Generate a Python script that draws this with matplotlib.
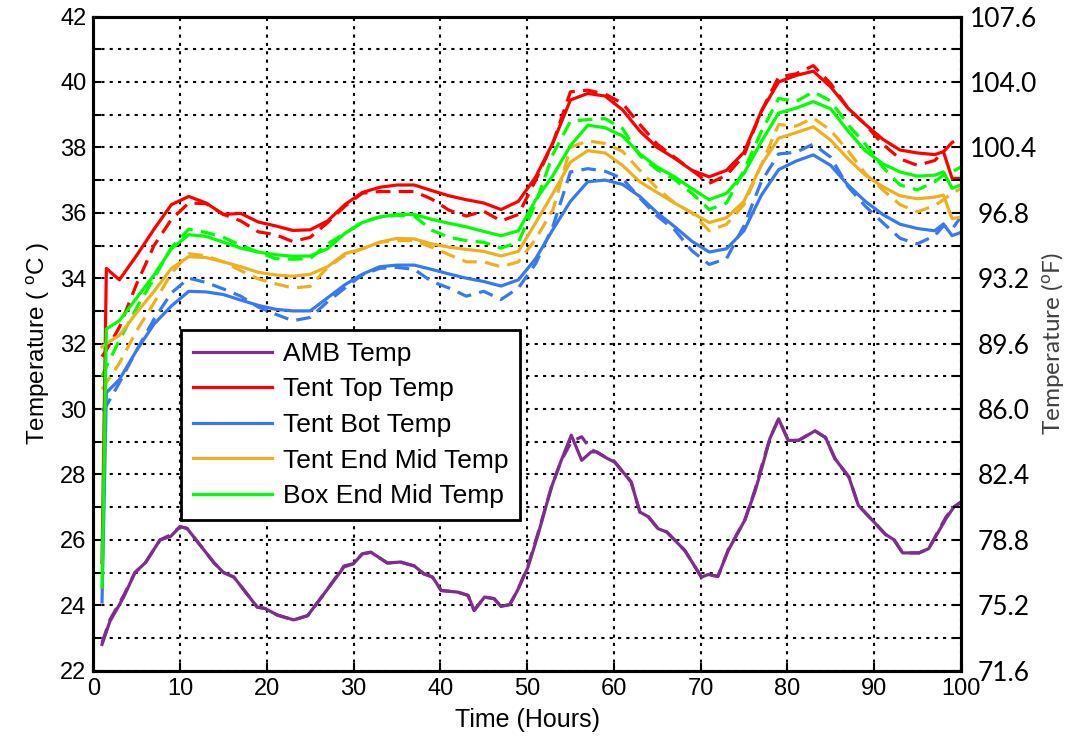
import matplotlib
matplotlib.use("Agg")
import matplotlib.pyplot as plt
import numpy as np

# hours at which the tent / box sensors are plotted
hours = [1, 1.5, 3, 5, 7, 9, 11, 13, 15, 17, 19, 21, 23, 25, 27, 29, 31, 33, 35, 37,
         39, 41, 43, 45, 47, 49, 51, 53, 55, 57, 59, 61, 63, 65, 67, 69, 71, 73, 75, 77,
         79, 81, 83, 85, 87, 89, 91, 93, 95, 97, 98, 99, 100]

top_solid = [25.3, 34.3, 33.95, 34.7, 35.5, 36.25, 36.5, 36.3, 35.95, 35.98, 35.72, 35.6, 35.46,
             35.48, 35.75, 36.25, 36.62, 36.78, 36.85, 36.85, 36.68, 36.52, 36.4, 36.3, 36.1,
             36.35, 37.1, 38.15, 39.45, 39.65, 39.57, 39.15, 38.5, 38.0, 37.67, 37.3, 37.1,
             37.3, 37.85, 39.1, 40.0, 40.2, 40.33, 39.85, 39.2, 38.7, 38.25, 37.92, 37.83,
             37.78, 37.87, 37.05, 37.05]
top_dash = [31.6, 31.8, 32.5, 33.83, 35.0, 35.8, 36.3, 36.28, 35.95, 35.75, 35.42, 35.33, 35.12,
            35.25, 35.7, 36.2, 36.6, 36.65, 36.65, 36.65, 36.42, 36.08, 35.9, 36.05, 35.75,
            35.95, 37.0, 38.15, 39.7, 39.75, 39.63, 39.35, 38.7, 38.1, 37.7, 37.3, 36.9,
            37.15, 37.75, 39.1, 40.15, 40.25, 40.5, 39.95, 39.2, 38.7, 38.1, 37.65, 37.45,
            37.6, 37.87, 38.15, 38.3]

bot_solid = [24.1, 30.5, 30.9, 31.8, 32.6, 33.15, 33.6, 33.58, 33.5, 33.33, 33.17, 33.05, 33.0,
             33.0, 33.4, 33.8, 34.12, 34.35, 34.4, 34.4, 34.27, 34.13, 34.0, 33.9, 33.76,
             33.95, 34.6, 35.5, 36.35, 36.95, 37.0, 36.87, 36.5, 36.0, 35.58, 35.13, 34.8,
             34.9, 35.45, 36.53, 37.32, 37.58, 37.77, 37.45, 36.85, 36.35, 35.95, 35.65, 35.52,
             35.45, 35.66, 35.3, 35.4]
bot_dash = [29.95, 30.1, 30.8, 31.8, 32.75, 33.55, 34.0, 33.87, 33.67, 33.45, 33.12, 32.9, 32.7,
            32.8, 33.28, 33.7, 34.1, 34.3, 34.33, 34.27, 33.9, 33.7, 33.45, 33.6, 33.35,
            33.7, 34.45, 35.6, 37.25, 37.35, 37.27, 37.05, 36.45, 35.9, 35.48, 34.84, 34.42,
            34.6, 35.6, 36.95, 37.8, 37.85, 38.1, 37.7, 36.8, 36.2, 35.7, 35.22, 35.05,
            35.3, 35.6, 35.5, 35.87]

end_solid = [31.9, 32.0, 32.25, 32.95, 33.6, 34.3, 34.66, 34.63, 34.5, 34.35, 34.18, 34.1, 34.06,
             34.12, 34.35, 34.75, 34.9, 35.1, 35.22, 35.2, 35.05, 34.95, 34.88, 34.82, 34.68,
             34.82, 35.7, 36.6, 37.55, 37.9, 37.83, 37.45, 36.95, 36.62, 36.3, 36.0, 35.7,
             35.85, 36.35, 37.46, 38.28, 38.45, 38.63, 38.22, 37.65, 37.15, 36.8, 36.52, 36.43,
             36.48, 36.54, 35.82, 35.87]
end_dash = [30.6, 30.8, 31.4, 32.4, 33.25, 34.15, 34.75, 34.68, 34.5, 34.23, 33.98, 33.83, 33.7,
            33.75, 34.33, 34.7, 34.9, 35.1, 35.15, 35.15, 34.95, 34.72, 34.5, 34.5, 34.35,
            34.5, 35.2, 36.1, 38.0, 38.2, 38.12, 37.88, 37.3, 36.75, 36.3, 36.0, 35.45,
            35.65, 36.25, 37.46, 38.7, 38.65, 38.9, 38.52, 37.9, 37.2, 36.7, 36.25, 36.03,
            36.22, 36.4, 36.6, 36.74]

box_solid = [24.55, 32.45, 32.7, 33.4, 34.1, 34.9, 35.33, 35.28, 35.1, 34.92, 34.8, 34.72, 34.67,
             34.68, 34.9, 35.37, 35.7, 35.87, 35.95, 35.95, 35.8, 35.68, 35.57, 35.43, 35.3,
             35.45, 36.4, 37.15, 38.05, 38.68, 38.6, 38.35, 37.8, 37.4, 37.1, 36.74, 36.4,
             36.6, 37.2, 38.17, 39.05, 39.2, 39.4, 39.18, 38.5, 37.9, 37.5, 37.25, 37.12,
             37.15, 37.25, 36.75, 36.85]
box_dash = [31.0, 31.3, 32.1, 33.1, 34.0, 34.94, 35.5, 35.4, 35.25, 35.0, 34.8, 34.6, 34.58,
            34.6, 35.05, 35.37, 35.72, 35.87, 35.92, 35.9, 35.47, 35.25, 35.15, 35.1, 34.92,
            35.1, 36.3, 37.8, 38.8, 38.85, 38.88, 38.58, 37.75, 37.32, 37.02, 36.6, 36.1,
            36.3, 37.3, 38.48, 39.5, 39.4, 39.7, 39.42, 38.7, 38.1, 37.4, 36.85, 36.7,
            36.95, 37.15, 37.25, 37.4]

# ambient sensor is logged on its own time base
amb_hours = [1.0, 1.9, 3.5, 4.8, 6.0, 7.7, 8.9, 10.0, 10.8, 13.9, 15.0, 16.2, 18.9, 19.8, 21.2,
             23.1, 24.7, 26.6, 28.9, 30.0, 31.0, 32.0, 33.9, 35.4, 37.0, 38.1, 39.1, 40.1,
             42.0, 43.2, 43.9, 45.1, 46.2, 47.0, 48.0, 48.9, 50.1, 51.2, 52.8, 53.9, 55.1,
             56.3, 57.4, 58.0, 59.3, 60.1, 62.0, 63.0, 64.0, 65.1, 66.1, 68.2, 70.1, 70.9,
             72.0, 73.2, 75.1, 76.3, 77.1, 78.0, 79.0, 80.1, 81.3, 83.2, 84.4, 85.5, 87.1,
             88.2, 89.8, 91.3, 92.3, 93.3, 95.2, 96.3, 98.3, 99.2, 100.0]
amb_solid = [22.8, 23.5, 24.25, 25.0, 25.3, 26.0, 26.1, 26.4, 26.35, 25.3, 25.0, 24.86, 23.94,
             23.9, 23.7, 23.55, 23.68, 24.35, 25.17, 25.27, 25.57, 25.62, 25.29, 25.32, 25.2,
             24.96, 24.86, 24.45, 24.4, 24.3, 23.84, 24.25, 24.2, 23.96, 24.02, 24.45, 25.16,
             26.1, 27.6, 28.4, 29.2, 28.43, 28.69, 28.69, 28.48, 28.38, 27.77, 26.85, 26.7,
             26.34, 26.24, 25.67, 24.86, 24.94, 24.88, 25.68, 26.6, 27.5, 28.23, 29.1, 29.7,
             29.04, 29.04, 29.33, 29.13, 28.48, 27.92, 27.05, 26.6, 26.17, 26.0, 25.6, 25.6,
             25.73, 26.65, 27.0, 27.15]
amb_dash = [22.85, 23.55, 24.3, 25.0, 25.3, 26.0, 26.15, 26.4, 26.35, 25.3, 25.0, 24.86, 23.94,
            23.9, 23.7, 23.55, 23.68, 24.35, 25.2, 25.27, 25.57, 25.62, 25.29, 25.32, 25.2,
            24.96, 24.86, 24.45, 24.4, 24.3, 23.84, 24.25, 24.2, 23.96, 24.02, 24.45, 25.2,
            26.15, 27.6, 28.4, 29.0, 29.15, 28.75, 28.69, 28.48, 28.38, 27.77, 26.85, 26.7,
            26.34, 26.24, 25.67, 24.86, 24.94, 24.88, 25.7, 26.6, 27.55, 28.3, 29.1, 29.7,
            29.04, 29.04, 29.33, 29.13, 28.48, 27.92, 27.05, 26.6, 26.17, 26.0, 25.6, 25.6,
            25.73, 26.7, 27.0, 27.15]

PURPLE = '#7e2f8e'
RED = '#ff0000'
BLUE = '#3a78f0'
ORANGE = '#edb120'
GREEN = '#00ff00'

plt.rcParams['font.family'] = ['Liberation Sans', 'DejaVu Sans']
plt.rcParams['mathtext.default'] = 'regular'

fig = plt.figure(figsize=(10.68, 7.41), dpi=100)
ax = fig.add_axes([0.0874, 0.095, 0.8122, 0.8826])

lw = 2.3
dash = (0, (4.6, 2.6))
series = [
    ('AMB Temp', PURPLE, amb_hours, amb_solid, amb_dash),
    ('Tent Top Temp', RED, hours, top_solid, top_dash),
    ('Tent Bot Temp', BLUE, hours, bot_solid, bot_dash),
    ('Tent End Mid Temp', ORANGE, hours, end_solid, end_dash),
    ('Box End Mid Temp', GREEN, hours, box_solid, box_dash),
]
for name, col, t, s, d in series:
    ax.plot(t, d, color=col, lw=lw, ls=dash, zorder=3)
for name, col, t, s, d in series:
    ax.plot(t, s, color=col, lw=lw, label=name, zorder=4)

ax.set_xlim(0, 100)
ax.set_ylim(22, 42)
ax.set_xticks(np.arange(0, 101, 10))
ax.set_yticks(np.arange(22, 43, 2))
ax.set_yticks(np.arange(23, 42, 2), minor=True)
ax.grid(True, which='both', color='black', ls=(0, (1.5, 2.5)), lw=1.5)
ax.tick_params(which='both', direction='in', labelsize=17, length=6, width=1.5,
               top=False, right=False, pad=5)
for sp in ax.spines.values():
    sp.set_linewidth(2.2)
ax.set_xlabel('Time (Hours)', fontsize=18, labelpad=6)
ax.set_ylabel('Temperature ( $^{o}$C )', fontsize=17.5, labelpad=6)

leg = ax.legend(loc='upper left', bbox_to_anchor=(0.101, 0.521), borderaxespad=0,
                fontsize=19, handlelength=3.0, handletextpad=0.4, labelspacing=0.44,
                borderpad=0.45, fancybox=False, framealpha=1, edgecolor='black')
leg.get_frame().set_linewidth(2.0)
leg.set_zorder(10)

# Fahrenheit scale on the right
ax2 = ax.twinx()
ax2.set_ylim(22 * 1.8 + 32, 42 * 1.8 + 32)
ax2.set_yticks([71.6 + 3.6 * k for k in range(11)])
ax2.set_yticks([73.4 + 3.6 * k for k in range(10)], minor=True)
ax2.yaxis.set_major_formatter(matplotlib.ticker.FormatStrFormatter('%.1f'))
ax2.tick_params(which='both', direction='in', length=6, width=1.5, labelsize=19, pad=31)
for lab in ax2.get_yticklabels():
    lab.set_fontfamily('Lato')
    lab.set_horizontalalignment('center')
ax2.set_ylabel('Temperature ($^{o}$F)', fontsize=17.5, family='Lato', color='#404040',
               labelpad=1)
for sp in ax2.spines.values():
    sp.set_linewidth(2.2)

fig.savefig('out.png', dpi=100)
